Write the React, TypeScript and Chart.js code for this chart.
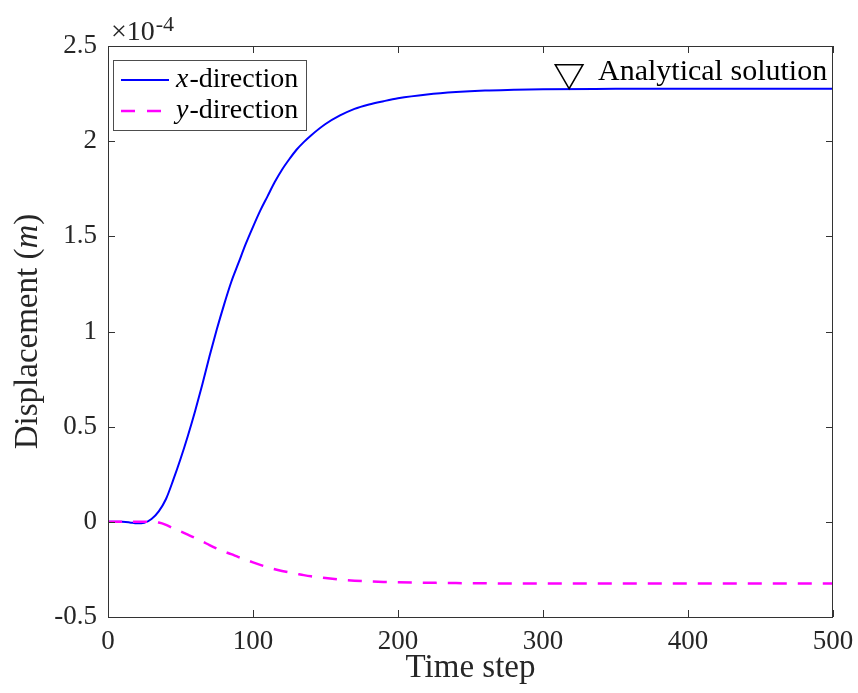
import React, { useEffect, useRef } from "react";
import { Chart, registerables } from "chart.js";

Chart.register(...registerables);

// Time steps (shared by both series)
const timeSteps = [0, 10, 15, 20, 25, 30, 35, 40, 45, 50, 55, 60, 65, 70, 75, 80, 85, 90, 95, 100, 105, 110, 115, 120, 125, 130, 135, 140, 150, 160, 170, 180, 190, 200, 220, 240, 260, 280, 300, 350, 400, 500];
// Displacement, units of 1e-4 m
const xDirection = [0, 0, -0.003, -0.008, -0.005, 0.015, 0.055, 0.12, 0.22, 0.33, 0.45, 0.58, 0.72, 0.87, 1.01, 1.14, 1.26, 1.36, 1.46, 1.55, 1.635, 1.71, 1.785, 1.85, 1.905, 1.955, 1.995, 2.03, 2.09, 2.135, 2.17, 2.193, 2.21, 2.225, 2.245, 2.258, 2.266, 2.27, 2.273, 2.275, 2.276, 2.276];
const yDirection = [0, 0, 0, 0, 0, 0, -0.004, -0.016, -0.034, -0.05, -0.067, -0.085, -0.103, -0.122, -0.14, -0.156, -0.17, -0.185, -0.199, -0.213, -0.226, -0.238, -0.249, -0.258, -0.266, -0.273, -0.28, -0.286, -0.295, -0.303, -0.309, -0.313, -0.316, -0.318, -0.32, -0.322, -0.323, -0.324, -0.324, -0.324, -0.324, -0.324];
const analyticalStep = [318];
const analyticalValue = [2.36];

const xTickValues = [0, 100, 200, 300, 400, 500];
const yTickValues = [-0.5, 0, 0.5, 1, 1.5, 2, 2.5];

const seriesLabels = ["x-direction", "y-direction"];
const analyticalLabel = "Analytical solution";
const xTitle = "Time step";
const yTitle = "Displacement";
const yUnit = "m";
const exponentBase = "\u00d710";
const exponentPower = "-4";

const SERIF = "'Liberation Serif', 'DejaVu Serif', serif";
const AXIS_COLOR = "#333333";
const BLUE = "#0000ff";
const MAGENTA = "#ff00ff";

const decorPlugin = {
  id: "decor",
  afterDraw(chart: any) {
    const ctx = chart.ctx as CanvasRenderingContext2D;
    const { left, right, top, bottom } = chart.chartArea;
    const xs = chart.scales.x;
    const ys = chart.scales.y;
    ctx.save();
    // box
    ctx.strokeStyle = AXIS_COLOR;
    ctx.lineWidth = 1;
    ctx.setLineDash([]);
    ctx.strokeRect(Math.round(left) + 0.5, Math.round(top) + 0.5, Math.round(right - left) - 1, Math.round(bottom - top));
    // inward ticks
    const tl = 7;
    ctx.beginPath();
    xTickValues.forEach((v) => {
      const px = Math.round(xs.getPixelForValue(v)) + 0.5;
      ctx.moveTo(px, bottom);
      ctx.lineTo(px, bottom - tl);
      ctx.moveTo(px, top);
      ctx.lineTo(px, top + tl);
    });
    yTickValues.forEach((v) => {
      const py = Math.round(ys.getPixelForValue(v)) + 0.5;
      ctx.moveTo(left, py);
      ctx.lineTo(left + tl, py);
      ctx.moveTo(right, py);
      ctx.lineTo(right - tl, py);
    });
    ctx.stroke();

    // exponent label
    ctx.fillStyle = "#262626";
    ctx.textBaseline = "alphabetic";
    ctx.textAlign = "left";
    ctx.font = `28px ${SERIF}`;
    ctx.fillText(exponentBase, left + 3, top - 6);
    const bw = ctx.measureText(exponentBase).width;
    ctx.font = `22px ${SERIF}`;
    ctx.fillText(exponentPower, left + 3 + bw + 1, top - 15);

    // axis titles
    ctx.font = `33px ${SERIF}`;
    ctx.textAlign = "center";
    ctx.fillText(xTitle, (left + right) / 2, 677);

    ctx.save();
    ctx.translate(37, (top + bottom) / 2);
    ctx.rotate(-Math.PI / 2);
    ctx.textAlign = "left";
    ctx.font = `33px ${SERIF}`;
    const p1 = yTitle + " (";
    const w1 = ctx.measureText(p1).width;
    ctx.font = `italic 33px ${SERIF}`;
    const w2 = ctx.measureText(yUnit).width;
    ctx.font = `33px ${SERIF}`;
    const w3 = ctx.measureText(")").width;
    const total = w1 + w2 + w3;
    let sx = -total / 2;
    ctx.fillText(p1, sx, 0);
    sx += w1;
    ctx.font = `italic 33px ${SERIF}`;
    ctx.fillText(yUnit, sx, 0);
    sx += w2;
    ctx.font = `33px ${SERIF}`;
    ctx.fillText(")", sx, 0);
    ctx.restore();

    // legend box
    const lx = 113.5, ly = 60.5, lw = 193, lh = 70;
    ctx.fillStyle = "#ffffff";
    ctx.fillRect(lx, ly, lw, lh);
    ctx.strokeStyle = "#4d4d4d";
    ctx.lineWidth = 1;
    ctx.strokeRect(lx, ly, lw, lh);
    const rows = [
      { color: BLUE, dash: [] as number[], width: 2, y: 80, label: seriesLabels[0] },
      { color: MAGENTA, dash: [14, 12], width: 2.5, y: 111, label: seriesLabels[1] },
    ];
    rows.forEach((r) => {
      ctx.strokeStyle = r.color;
      ctx.lineWidth = r.width;
      ctx.setLineDash(r.dash);
      ctx.beginPath();
      ctx.moveTo(121, r.y);
      ctx.lineTo(169, r.y);
      ctx.stroke();
      ctx.setLineDash([]);
      ctx.fillStyle = "#000000";
      ctx.textAlign = "left";
      const letter = r.label.charAt(0);
      const rest = r.label.slice(1);
      ctx.font = `italic 28px ${SERIF}`;
      ctx.fillText(letter, 176, r.y + 7);
      const lw1 = ctx.measureText(letter).width;
      ctx.font = `28px ${SERIF}`;
      ctx.fillText(rest, 176 + lw1 + 1, r.y + 7);
    });

    // analytical label
    ctx.font = `30px ${SERIF}`;
    ctx.fillStyle = "#000000";
    ctx.textAlign = "left";
    ctx.fillText(analyticalLabel, 598, 80);
    ctx.restore();
  },
};

export default function App() {
  const canvasRef = useRef<HTMLCanvasElement | null>(null);

  useEffect(() => {
    document.body.style.margin = "0";
    const canvas = canvasRef.current;
    if (!canvas) return;
    const chart = new Chart(canvas, {
      type: "line",
      data: {
        datasets: [
          {
            label: seriesLabels[0],
            data: timeSteps.map((t, i) => ({ x: t, y: xDirection[i] })),
            borderColor: BLUE,
            borderWidth: 2,
            pointRadius: 0,
            cubicInterpolationMode: "monotone",
            order: 3,
          },
          {
            label: seriesLabels[1],
            data: timeSteps.map((t, i) => ({ x: t, y: yDirection[i] })),
            borderColor: MAGENTA,
            borderWidth: 2.5,
            borderDash: [14, 11],
            pointRadius: 0,
            cubicInterpolationMode: "monotone",
            order: 2,
          },
          {
            label: analyticalLabel,
            data: analyticalStep.map((t, i) => ({ x: t, y: analyticalValue[i] })),
            showLine: false,
            pointStyle: "triangle",
            rotation: 180,
            pointRadius: 16,
            pointBorderWidth: 1.5,
            pointBorderColor: "#000000",
            pointBackgroundColor: "rgba(0,0,0,0)",
            order: 1,
          } as any,
        ],
      },
      options: {
        animation: false,
        responsive: false,
        maintainAspectRatio: false,
        layout: { padding: { left: 0, top: 46, right: 25, bottom: 0 } },
        plugins: {
          legend: { display: false },
          tooltip: { enabled: false },
        },
        scales: {
          x: {
            type: "linear",
            min: 0,
            max: 500,
            afterBuildTicks: (scale: any) => {
              scale.ticks = xTickValues.map((v) => ({ value: v }));
            },
            afterFit: (scale: any) => {
              scale.height = 76;
              scale.paddingLeft = 0;
              scale.paddingRight = 0;
            },
            grid: { display: false, drawTicks: false },
            border: { display: false },
            ticks: {
              color: "#262626",
              font: { family: SERIF, size: 27 },
              padding: 9,
              maxRotation: 0,
            },
          },
          y: {
            type: "linear",
            min: -0.5,
            max: 2.5,
            afterBuildTicks: (scale: any) => {
              scale.ticks = yTickValues.map((v) => ({ value: v }));
            },
            afterFit: (scale: any) => {
              scale.width = 108;
              scale.paddingTop = 0;
              scale.paddingBottom = 0;
            },
            grid: { display: false, drawTicks: false },
            border: { display: false },
            ticks: {
              color: "#262626",
              font: { family: SERIF, size: 27 },
              padding: 11,
              callback: (v: any) => String(v),
            },
          },
        },
      },
      plugins: [decorPlugin],
    } as any);
    return () => chart.destroy();
  }, []);

  return (
    <div style={{ width: 858, height: 693, position: "relative", background: "#ffffff" }}>
      <canvas ref={canvasRef} width={858} height={693} style={{ display: "block" }} />
    </div>
  );
}
